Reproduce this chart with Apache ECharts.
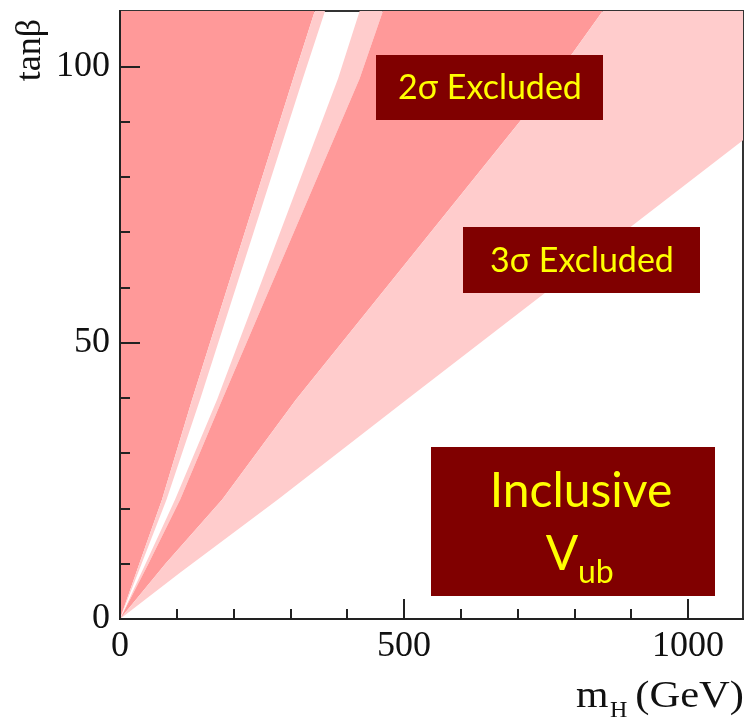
<!DOCTYPE html>
<html><head><meta charset="utf-8">
<script src="https://cdn.jsdelivr.net/npm/echarts@6/dist/echarts.min.js"></script>
<style>html,body{margin:0;padding:0;background:#fff}#c{width:748px;height:727px}</style>
</head><body><div id="c"></div>
<script>
// tanβ levels at which the band boundaries are sampled
const tanbLevels = [0, 10, 21.6, 39.7, 97.8, 110];
// m_H (GeV) of each boundary at those tanβ levels
const edgeA = [0, 34, 74, 127, 305, 343];   // 2σ (left) -> 3σ strip
const edgeB = [0, 38, 82, 141, 322, 361];   // 3σ strip -> allowed
const edgeC = [0, 45, 97, 171, 384, 422];   // allowed -> 3σ strip
const edgeD = [0, 50, 106, 180, 422, 463];  // 3σ strip -> 2σ (middle)
const edgeE = [0, 80, 180, 310, 765, 850];  // 2σ (middle) -> 3σ
// outer 3σ boundary (m_H, tanβ)
const outerMH = [0, 105, 278, 505, 1097, 1097];
const outerTanb = [0, 8.3, 21.6, 39.7, 86.6, 110];

const xTicks = [0, 500, 1000];
const yTicks = [0, 50, 100];
const X_MAX = 1097, Y_MAX = 110;

const DARK = '#ff9999', LIGHT = '#ffcccc';

function pts(mh, tb) { return mh.map((m, i) => [m, tb[i]]); }
const yAxisEdge = [[0, 0], [0, Y_MAX]];
const A = pts(edgeA, tanbLevels), B = pts(edgeB, tanbLevels), C = pts(edgeC, tanbLevels),
      D = pts(edgeD, tanbLevels), E = pts(edgeE, tanbLevels), F = pts(outerMH, outerTanb);

function band(left, right) { return right.concat(left.slice().reverse()); }
const regions = [
  { poly: band(yAxisEdge, A), color: DARK },
  { poly: band(A, B), color: LIGHT },
  { poly: band(C, D), color: LIGHT },
  { poly: band(D, E), color: DARK },
  { poly: band(E, F), color: LIGHT }
];

const chart = echarts.init(document.getElementById('c'), null, { renderer: 'canvas' });
const axisCol = '#222';
const labelFont = { fontFamily: 'Liberation Serif', fontSize: 36, color: '#111', formatter: v => String(v) };

chart.setOption({
  animation: false,
  backgroundColor: '#fff',
  grid: { left: 120, top: 11, right: 5, bottom: 108, show: true, borderColor: '#333', borderWidth: 2, backgroundColor: 'transparent' },
  xAxis: {
    type: 'value', min: 0, max: X_MAX, interval: 500, z: 10,
    splitLine: { show: false },
    axisLine: { show: true, onZero: false, lineStyle: { color: axisCol, width: 2 } },
    axisTick: { show: true, inside: true, length: 20, customValues: xTicks, lineStyle: { color: axisCol, width: 2 } },
    minorTick: { show: true, splitNumber: 5, length: 10, lineStyle: { color: axisCol, width: 2 } },
    axisLabel: Object.assign({ margin: 10, customValues: xTicks }, labelFont)
  },
  yAxis: {
    type: 'value', min: 0, max: Y_MAX, interval: 50, z: 10,
    splitLine: { show: false },
    axisLine: { show: true, onZero: false, lineStyle: { color: axisCol, width: 2 } },
    axisTick: { show: true, inside: true, length: 20, customValues: yTicks, lineStyle: { color: axisCol, width: 2 } },
    minorTick: { show: true, splitNumber: 5, length: 10, lineStyle: { color: axisCol, width: 2 } },
    axisLabel: Object.assign({ margin: 10, customValues: yTicks }, labelFont)
  },
  series: [{
    type: 'custom', clip: true, z: 2,
    data: regions.map((r, i) => i),
    renderItem: function (params, api) {
      const r = regions[params.dataIndex];
      return { type: 'polygon', shape: { points: r.poly.map(p => api.coord(p)) }, style: { fill: r.color, stroke: null } };
    }
  }],
  graphic: [
    { type: 'text', x: 31, y: 50, rotation: Math.PI / 2, z: 20,
      style: { text: 'tanβ', fontFamily: 'Liberation Serif', fontSize: 36, fill: '#111', align: 'center', verticalAlign: 'middle', textAlign: 'center', textVerticalAlign: 'middle' } },
    { type: 'text', x: 576, y: 697, z: 20, scaleX: 1.1,
      style: { text: 'm', fontFamily: 'Liberation Serif', fontSize: 38, fill: '#111', align: 'left', verticalAlign: 'middle', textAlign: 'left', textVerticalAlign: 'middle' } },
    { type: 'text', x: 610, y: 711, z: 20,
      style: { text: 'H', fontFamily: 'Liberation Serif', fontSize: 24, fill: '#111', align: 'left', verticalAlign: 'middle', textAlign: 'left', textVerticalAlign: 'middle' } },
    { type: 'text', x: 744, y: 697, z: 20, scaleX: 1.12,
      style: { text: '(GeV)', fontFamily: 'Liberation Serif', fontSize: 38, fill: '#111', align: 'right', verticalAlign: 'middle', textAlign: 'right', textVerticalAlign: 'middle' } },

    { type: 'rect', shape: { x: 376, y: 55, width: 227, height: 65 }, style: { fill: '#800000' }, z: 30 },
    { type: 'text', x: 490, y: 88, z: 31,
      style: { text: '2σ Excluded', fontFamily: 'Lato, "Noto Sans", sans-serif', fontSize: 34, fill: '#ffff00', align: 'center', verticalAlign: 'middle', textAlign: 'center', textVerticalAlign: 'middle' } },
    { type: 'rect', shape: { x: 463, y: 227, width: 237, height: 66 }, style: { fill: '#800000' }, z: 30 },
    { type: 'text', x: 582, y: 261, z: 31,
      style: { text: '3σ Excluded', fontFamily: 'Lato, "Noto Sans", sans-serif', fontSize: 34, fill: '#ffff00', align: 'center', verticalAlign: 'middle', textAlign: 'center', textVerticalAlign: 'middle' } },
    { type: 'rect', shape: { x: 431, y: 447, width: 284, height: 149 }, style: { fill: '#800000' }, z: 30 },
    { type: 'text', x: 581, y: 492, z: 31,
      style: { text: 'Inclusive', fontFamily: 'Lato, "Noto Sans", sans-serif', fontSize: 48, fill: '#ffff00', align: 'center', verticalAlign: 'middle', textAlign: 'center', textVerticalAlign: 'middle' } },
    { type: 'text', x: 562, y: 555, z: 31,
      style: { text: 'V', fontFamily: 'Lato, "Noto Sans", sans-serif', fontSize: 48, fill: '#ffff00', align: 'center', verticalAlign: 'middle', textAlign: 'center', textVerticalAlign: 'middle' } },
    { type: 'text', x: 578, y: 573, z: 31,
      style: { text: 'ub', fontFamily: 'Lato, "Noto Sans", sans-serif', fontSize: 32, fill: '#ffff00', align: 'left', verticalAlign: 'middle', textAlign: 'left', textVerticalAlign: 'middle' } }
  ]
});
</script></body></html>
